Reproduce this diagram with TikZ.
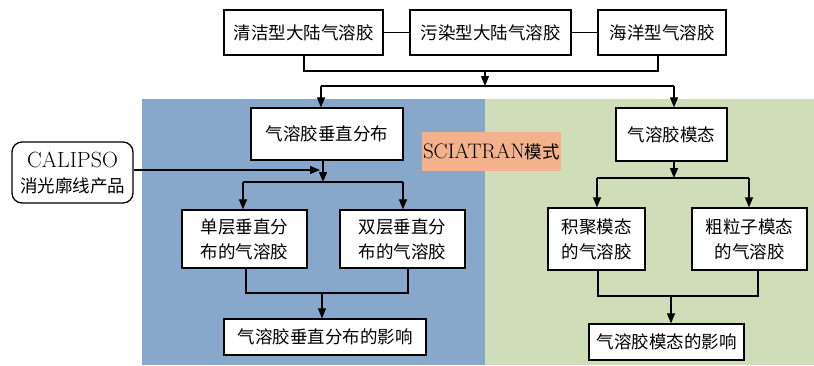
\documentclass[tikz,border=0pt]{standalone}
\usepackage{fontspec}
\newfontfamily\cjk{Noto Sans CJK SC}
\usetikzlibrary{arrows.meta}
\definecolor{bluebg}{HTML}{87A8CB}
\definecolor{greenbg}{HTML}{CFDDB9}
\definecolor{orangebg}{HTML}{F3B28B}
\begin{document}
\begin{tikzpicture}[x=1pt,y=-1pt,
  box/.style={draw=black,fill=white,line width=1.3pt,inner sep=0pt,align=center,
    font=\fontsize{17.5}{25}\selectfont\cjk},
  arr/.style={line width=1.2pt,-{Triangle[length=10pt,width=8pt]}},
  ln/.style={line width=1.2pt}]
\useasboundingbox (0,0) rectangle (814,365);
\fill[bluebg] (142,99) rectangle (485,365);
\fill[greenbg] (485,99) rectangle (814,365);
% top boxes
\node[box,minimum width=159pt,minimum height=45pt] (b1) at (303.5,32.5) {清洁型大陆气溶胶};
\node[box,minimum width=161pt,minimum height=45pt] (b2) at (490.5,32.5) {污染型大陆气溶胶};
\node[box,minimum width=128pt,minimum height=45pt] (b3) at (662,32.5) {海洋型气溶胶};
\draw[ln] (b1) -- (b2);
\draw[ln] (b2) -- (b3);
\coordinate (t1) at (304,71);
\coordinate (t2) at (658,71);
\draw[ln] (b1.south -| t1) -- (t1) -- (t2) -- (b3.south -| t2);
\coordinate (t3) at (485,71);
\coordinate (t4) at (485,86);
\draw[arr] (t3) -- (t4);
% label
\node[fill=orangebg,minimum width=139pt,minimum height=39pt,inner sep=0pt,
  font=\fontsize{21}{24}\selectfont] (sci) at (491.5,151.5) {SCIATRAN{\cjk\fontsize{17.5}{24}\selectfont 模式}};
% left branch
\node[box,minimum width=152pt,minimum height=52pt] (vert) at (327,134) {气溶胶垂直分布};
\node[box,rounded corners=10pt,minimum width=121pt,minimum height=61pt] (cal) at (72.5,172.5)
  {{\rmfamily\fontsize{22}{25}\selectfont CALIPSO}\\消光廓线产品};
\node[box,minimum width=125pt,minimum height=58pt] (single) at (244.5,239) {单层垂直分\\布的气溶胶};
\node[box,minimum width=125pt,minimum height=58pt] (double) at (402.5,239) {双层垂直分\\布的气溶胶};
\node[box,minimum width=202pt,minimum height=36pt] (effv) at (325,337) {气溶胶垂直分布的影响};
% right branch
\node[box,minimum width=111pt,minimum height=53pt] (mode) at (671.5,134.5) {气溶胶模态};
\node[box,minimum width=97pt,minimum height=62pt] (acc) at (596.5,239) {积聚模态\\的气溶胶};
\node[box,minimum width=115pt,minimum height=62pt] (coarse) at (749.5,239) {粗粒子模态\\的气溶胶};
\node[box,minimum width=155pt,minimum height=36pt] (effm) at (666.5,342) {气溶胶模态的影响};
% distribution line
\coordinate (h1) at (321,86);
\coordinate (h2) at (674,86);
\draw[ln] (h1) -- (h2);
\draw[arr] (h1) -- (h1 |- vert.north);
\draw[arr] (h2) -- (h2 |- mode.north);
% left connectors
\coordinate (v1) at (323,182);
\draw[arr] (vert.south -| v1) -- (v1);
\coordinate (c1) at (320,170);
\draw[arr] (cal.east |- c1) -- (c1);
\coordinate (s1) at (243,182);
\coordinate (s2) at (403,182);
\draw[ln] (s1) -- (s2);
\draw[arr] (s1) -- (s1 |- single.north);
\draw[arr] (s2) -- (s2 |- double.north);
\coordinate (u1) at (246,293);
\coordinate (u2) at (408,293);
\draw[ln] (single.south -| u1) -- (u1) -- (u2) -- (double.south -| u2);
\coordinate (u3) at (322,293);
\draw[arr] (u3) -- (u3 |- effv.north);
% right connectors
\coordinate (m1) at (674,178);
\draw[arr] (mode.south -| m1) -- (m1);
\coordinate (r1) at (597,178);
\coordinate (r2) at (749,178);
\draw[ln] (r1) -- (r2);
\draw[arr] (r1) -- (r1 |- acc.north);
\draw[arr] (r2) -- (r2 |- coarse.north);
\coordinate (w1) at (598,296);
\coordinate (w2) at (758,296);
\draw[ln] (acc.south -| w1) -- (w1) -- (w2) -- (coarse.south -| w2);
\coordinate (w3) at (671,296);
\draw[arr] (w3) -- (w3 |- effm.north);
\end{tikzpicture}
\end{document}
